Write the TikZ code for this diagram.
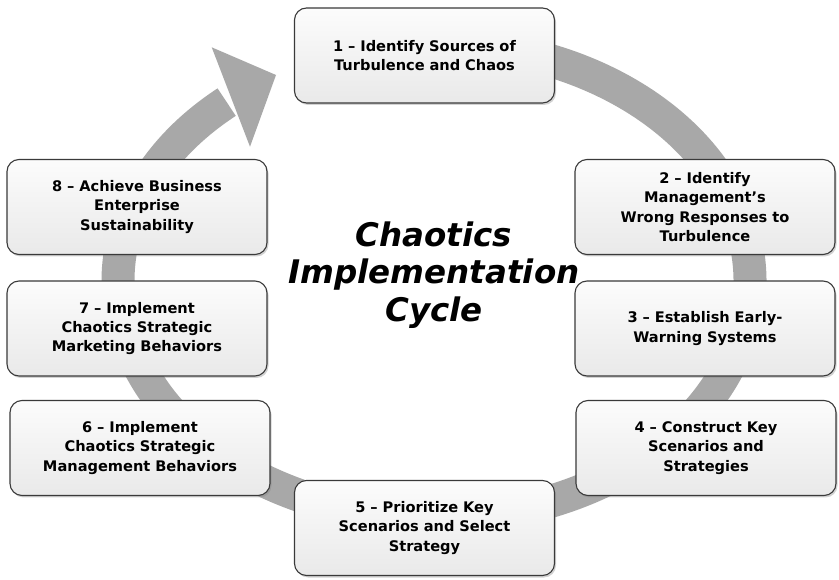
\documentclass[tikz,border=0pt]{standalone}
\usepackage{fontspec}
\setmainfont{DejaVu Sans}[BoldItalicFont={DejaVu Sans Bold Oblique},ItalicFont={DejaVu Sans Oblique}]
\usetikzlibrary{shadows}
\definecolor{ringgray}{HTML}{A8A8A8}
\definecolor{boxedge}{HTML}{3A3A3A}
\definecolor{boxtop}{HTML}{FCFCFC}
\definecolor{boxbot}{HTML}{E9E9E9}
\begin{document}
\begin{tikzpicture}[x=1pt,y=1pt,
  stepbox/.style={draw=boxedge, line width=1.1pt, rounded corners=12pt,
    minimum width=260pt, minimum height=95pt, top color=boxtop, bottom color=boxbot,
    align=center, text width=250pt, inner sep=4pt,
    font=\fontsize{14.6}{19.2}\selectfont\bfseries,
    drop shadow={opacity=0.35, shadow xshift=1.5pt, shadow yshift=-2pt}},
  titletext/.style={align=center, font=\fontsize{32.5}{37.5}\selectfont\bfseries\itshape}
]
\useasboundingbox (0,0) rectangle (839,579);
\fill[white] (0,0) rectangle (839,579);
% ring
\draw[ringgray, line width=33pt] (434,298) ++(95:316 and 237)
  arc[start angle=95, end angle=-229, x radius=316, y radius=237] coordinate (ringend);
\fill[ringgray] (211.7,531.7) -- (276,504) -- (250,432.3) -- cycle;
% title
\node[titletext] (title) at (434,304) {Chaotics\\Implementation\\Cycle};
% boxes
\node[stepbox] (s1) at (424.5,523.5) {1 – Identify Sources of\\Turbulence and Chaos};
\node[stepbox] (s2) at (705,372) {2 – Identify\\Management’s\\Wrong Responses to\\Turbulence};
\node[stepbox] (s3) at (705,250.5) {3 – Establish Early-\\Warning Systems};
\node[stepbox] (s4) at (706,131) {4 – Construct Key\\Scenarios and\\Strategies};
\node[stepbox] (s5) at (424.5,51) {5 – Prioritize Key\\Scenarios and Select\\Strategy};
\node[stepbox] (s6) at (140,131) {6 – Implement\\Chaotics Strategic\\Management Behaviors};
\node[stepbox] (s7) at (137,250.5) {7 – Implement\\Chaotics Strategic\\Marketing Behaviors};
\node[stepbox] (s8) at (137,372) {8 – Achieve Business\\Enterprise\\Sustainability};
\end{tikzpicture}
\end{document}
